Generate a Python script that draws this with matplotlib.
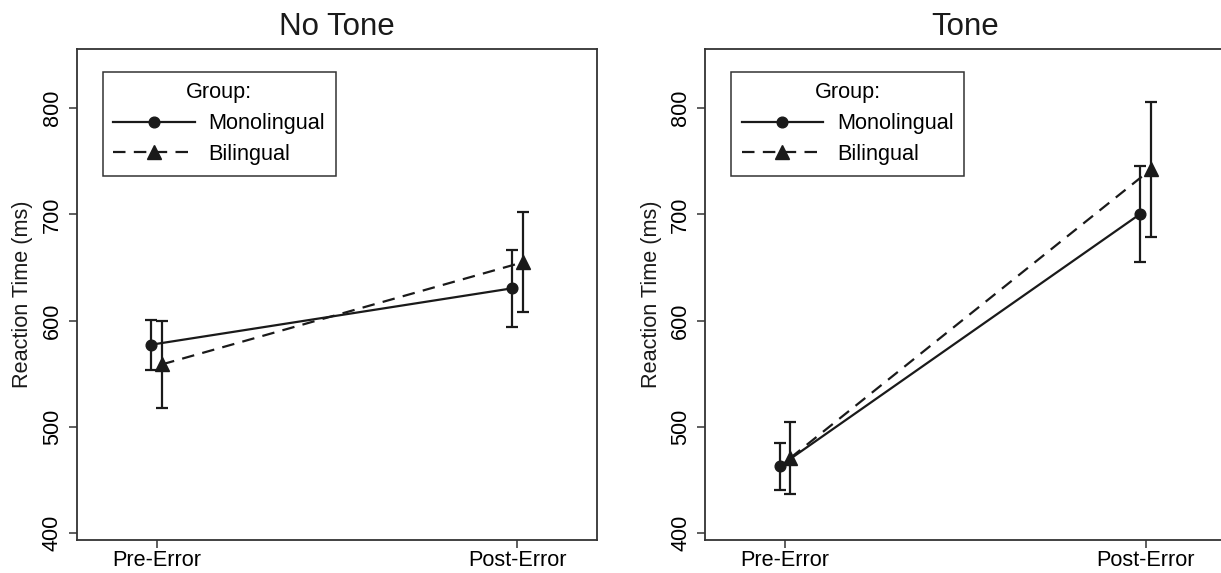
import numpy as np
import matplotlib
matplotlib.use("Agg")
import matplotlib.pyplot as plt
from matplotlib.lines import Line2D

# values
conditions = ["Pre-Error", "Post-Error"]
panels = ["No Tone", "Tone"]
groups = ["Monolingual", "Bilingual"]

mono_no_tone = [577.5, 630.5]
mono_no_tone_err = [23.5, 36.5]
bi_no_tone = [559.0, 655.0]
bi_no_tone_err = [41.0, 47.0]

mono_tone = [463.0, 700.5]
mono_tone_err = [22.0, 45.5]
bi_tone = [471.0, 742.5]
bi_tone_err = [34.0, 63.5]

yticks = [400, 500, 600, 700, 800]

plt.rcParams['font.family'] = ['Liberation Sans', 'DejaVu Sans']
plt.rcParams['lines.scale_dashes'] = False

ink = "#1a1a1a"
fs = 15.6
fig = plt.figure(figsize=(12.21, 5.73), dpi=100)
ax_left = fig.add_axes([0.0628, 0.0576, 0.4264, 0.857])
ax_right = fig.add_axes([0.5774, 0.0576, 0.4264, 0.857])

data = [
    (ax_left, mono_no_tone, mono_no_tone_err, bi_no_tone, bi_no_tone_err),
    (ax_right, mono_tone, mono_tone_err, bi_tone, bi_tone_err),
]

x = np.arange(1, len(conditions) + 1)
shift = 0.015
mono_style = dict(color=ink, lw=1.6, ls="-", marker="o", ms=7.7)
bi_style = dict(color=ink, lw=1.6, ls="--", dashes=(9, 6), marker="^", ms=9.5)

for i, (ax, m, me, b, be) in enumerate(data):
    ax.errorbar(x - shift, m, yerr=me, capsize=4.3, capthick=1.6,
                elinewidth=1.6, zorder=3, **mono_style)
    ax.errorbar(x + shift, b, yerr=be, capsize=4.3, capthick=1.6,
                elinewidth=1.6, zorder=3, **bi_style)

    ax.set_xlim(0.778, 2.222)
    ax.set_ylim(393.7, 855.8)
    ax.set_xticks(x)
    ax.set_xticklabels(conditions, fontsize=fs)
    ax.set_yticks(yticks)
    ax.set_yticklabels([str(v) for v in yticks], fontsize=fs,
                       rotation=90, va="center")
    ax.tick_params(axis="both", length=6, width=1.1, color="#333333")
    ax.tick_params(axis="x", pad=1)
    ax.tick_params(axis="y", pad=4)
    for s in ax.spines.values():
        s.set_color("#333333")
        s.set_linewidth(1.3)

    ax.set_ylabel("Reaction Time (ms)", fontsize=fs, labelpad=6, color=ink)
    ax.set_title(panels[i], fontsize=22.5, pad=10, color=ink)

    handles = [Line2D([], [], **mono_style), Line2D([], [], **bi_style)]
    leg = ax.legend(handles, groups, title="Group:", loc="upper left",
                    bbox_to_anchor=(0.0496, 0.954), borderaxespad=0,
                    fontsize=fs, title_fontsize=fs, handlelength=3.75,
                    handletextpad=0.65, labelspacing=0.45, borderpad=0.5,
                    fancybox=False, framealpha=1)
    leg.get_frame().set_edgecolor("#333333")
    leg.get_frame().set_linewidth(1.1)

fig.savefig("out.png", dpi=100)
